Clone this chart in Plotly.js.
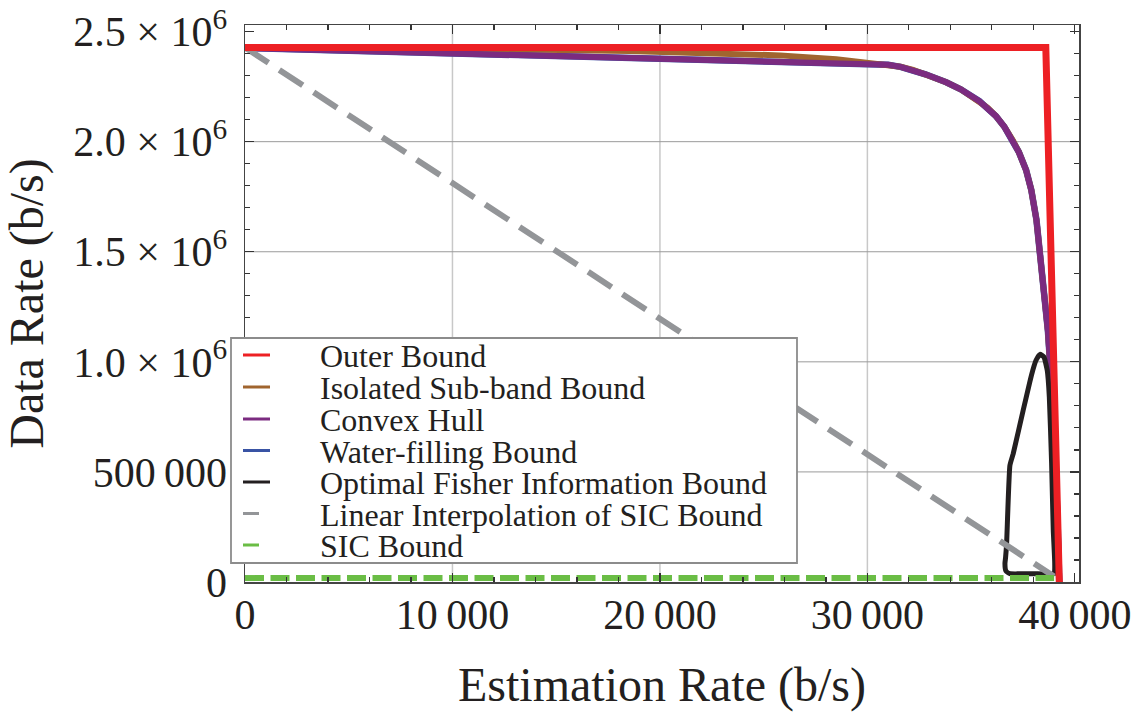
<!DOCTYPE html>
<html><head><meta charset="utf-8">
<script src="https://cdn.plot.ly/plotly-3.0.1.min.js"></script>
<style>html,body{margin:0;padding:0;background:#fff}</style>
</head><body><div id="chart" style="width:1141px;height:715px"></div>
<script>
// ---- data ----
const outerX = [0, 38600, 39250];
const outerY = [2428000, 2428000, 0];

const isolatedX = [0, 10000, 18500, 25800, 28500, 30600, 31000, 31600, 32200, 32800, 33800, 34500, 35400, 35800, 36200, 36600, 37000, 37300, 37650, 37900, 38150, 38300, 38500, 38700, 38850, 39000, 39150, 39250];
const isolatedY = [2428000, 2424000, 2412000, 2392000, 2374000, 2355000, 2349000, 2340000, 2326000, 2306000, 2270000, 2238000, 2184000, 2154000, 2116000, 2068000, 2008000, 1953000, 1871000, 1781000, 1644000, 1522000, 1335000, 1143000, 930000, 650000, 330000, 0];

const hullX = [0, 10000, 18500, 25800, 30000, 30600, 31000, 31600, 32200, 32800, 33800, 34500, 35400, 35800, 36200, 36600, 37000, 37300, 37650, 37900, 38150, 38300, 38500, 38700, 38850, 39000, 39150, 39250];
const hullY = [2426000, 2401000, 2384000, 2362000, 2356000, 2355000, 2349000, 2340000, 2326000, 2306000, 2270000, 2238000, 2184000, 2154000, 2116000, 2068000, 2008000, 1953000, 1871000, 1781000, 1644000, 1522000, 1335000, 1143000, 930000, 650000, 330000, 0];

const waterX = [0, 10000, 18500, 25800, 30000, 30600, 31000, 31600, 32200, 32800, 33800, 34500, 35400, 35800, 36200, 36600, 37000, 37300, 37650, 37900, 38150, 38300, 38500, 38700, 38850, 39000, 39150, 39250];
const waterY = [2426000, 2401000, 2384000, 2362000, 2356000, 2355000, 2349000, 2340000, 2326000, 2306000, 2270000, 2238000, 2184000, 2154000, 2116000, 2068000, 2008000, 1953000, 1871000, 1781000, 1644000, 1522000, 1335000, 1143000, 930000, 650000, 330000, 0];

const fisherX = [39000, 39030, 38960, 38880, 38770, 38670, 38510, 38320, 38130, 37910, 37510, 37030, 36870, 36710, 36660, 36630, 36680, 36870, 38000, 39000];
const fisherY = [38000, 85000, 235000, 539000, 840000, 961000, 1022000, 1034000, 1007000, 940000, 780000, 583000, 530000, 174000, 110000, 84000, 50000, 38000, 38000, 38000];

const linearX = [0, 39000];
const linearY = [2428000, 25000];

const sicX = [0, 39000];
const sicY = [18000, 18000];

const seriesNames = ['Outer Bound', 'Isolated Sub-band Bound', 'Convex Hull', 'Water-filling Bound',
  'Optimal Fisher Information Bound', 'Linear Interpolation of SIC Bound', 'SIC Bound'];

const xTickVals = [0, 10000, 20000, 30000, 40000];
const xTickText = ['0', '10\u2009000', '20\u2009000', '30\u2009000', '40\u2009000'];
const yTickVals = [0, 500000, 1000000, 1500000, 2000000, 2500000];
const yTickText = ['0', '500\u2009000', '1.0 \u00d7 10<sup>6</sup>', '1.5 \u00d7 10<sup>6</sup>', '2.0 \u00d7 10<sup>6</sup>', '2.5 \u00d7 10<sup>6</sup>'];
const xGridVals = [10000, 20000, 30000];
const yGridVals = [500000, 1000000, 1500000, 2000000];

// ---- styles ----
const C = {red:'#ED2024', brown:'#A0652F', purple:'#7B2B80', blue:'#3953A4', black:'#231F20', gray:'#939598', green:'#6ABD45'};
const FONT = 'Liberation Serif, Times New Roman, serif';

const traces = [
  {x: waterX, y: waterY, mode:'lines', line:{color:C.blue, width:6.5}, name: seriesNames[3], showlegend:false},
  {x: isolatedX, y: isolatedY, mode:'lines', line:{color:C.brown, width:6}, name: seriesNames[1], showlegend:false},
  {x: hullX, y: hullY, mode:'lines', line:{color:C.purple, width:6}, name: seriesNames[2], showlegend:false},
  {x: fisherX, y: fisherY, mode:'lines', line:{color:C.black, width:5, shape:'spline', smoothing:0.4}, name: seriesNames[4], showlegend:false},
  {x: linearX, y: linearY, mode:'lines', line:{color:C.gray, width:6, dash:'28px,13px'}, name: seriesNames[5], showlegend:false},
  {x: sicX, y: sicY, mode:'lines', line:{color:C.green, width:6, dash:'19px,6.5px'}, name: seriesNames[6], showlegend:false},
  {x: outerX, y: outerY, mode:'lines', line:{color:C.red, width:7}, name: seriesNames[0], showlegend:false}
];

// plot-area pixel geometry
const L = 245, R = 1079, T = 25, B = 582;
const px = v => (v - L) / (R - L);
const py = v => (B - v) / (B - T);

const shapes = [];
xGridVals.forEach(v => shapes.push({type:'line', xref:'x', yref:'paper', x0:v, x1:v, y0:0, y1:1, layer:'below', line:{color:'#c8c8c8', width:1.5}}));
yGridVals.forEach(v => shapes.push({type:'line', xref:'paper', yref:'y', x0:0, x1:1, y0:v, y1:v, layer:'below', line:{color:'#9a9a9a', width:1}}));

// legend box
shapes.push({type:'rect', xref:'paper', yref:'paper', x0:px(231), x1:px(797), y0:py(563), y1:py(338), layer:'above', fillcolor:'#ffffff', line:{color:'#8c8c8c', width:1.8}});
const legendColors = [C.red, C.brown, C.purple, C.blue, C.black, C.gray, C.green];
const legendRowY = [355, 387, 419, 450.5, 482, 513.5, 545];
const legendLen = [27, 27, 27, 27, 27, 16, 16];
const annotations = [];
seriesNames.forEach((n, i) => {
  shapes.push({type:'line', xref:'paper', yref:'paper', x0:px(243), x1:px(243 + legendLen[i]), y0:py(legendRowY[i]), y1:py(legendRowY[i]), layer:'above', line:{color:legendColors[i], width:3}});
  annotations.push({xref:'paper', yref:'paper', x:px(318), y:py(legendRowY[i] + 1), xanchor:'left', yanchor:'middle', showarrow:false, text:n, font:{family:FONT, size:32, color:'#231F20'}});
});

const axisCommon = {
  ticks:'inside', ticklen:9, tickwidth:1.2, tickcolor:'#333', mirror:'ticks', showline:true, linecolor:'#444', linewidth:1.5,
  showgrid:false, zeroline:false, tickfont:{family:FONT, size:42, color:'#231F20'}
};

const layout = {
  width:1141, height:715,
  margin:{l:L, r:1141-R, t:T, b:715-B, pad:0},
  paper_bgcolor:'#fff', plot_bgcolor:'#fff',
  showlegend:false,
  xaxis: Object.assign({}, axisCommon, {
    range:[0, 40200], tickmode:'array', tickvals:xTickVals, ticktext:xTickText, ticklabelstandoff:-5,
    minor:{tickmode:'linear', tick0:0, dtick:2000, ticks:'inside', ticklen:5, tickcolor:'#333', showgrid:false},
    title:{text:'Estimation Rate (b/s)', font:{family:FONT, size:48, color:'#231F20'}, standoff:30}
  }),
  yaxis: Object.assign({}, axisCommon, {
    range:[0, 2530000], tickmode:'array', tickvals:yTickVals, ticktext:yTickText, ticklabelstandoff:8,
    minor:{tickmode:'linear', tick0:0, dtick:100000, ticks:'inside', ticklen:5, tickcolor:'#333', showgrid:false},
    title:{text:'Data Rate (b/s)', font:{family:FONT, size:48, color:'#231F20'}, standoff:16}
  }),
  shapes: shapes,
  annotations: annotations
};

Plotly.newPlot('chart', traces, layout, {displayModeBar:false, staticPlot:true});
</script>
</body></html>
